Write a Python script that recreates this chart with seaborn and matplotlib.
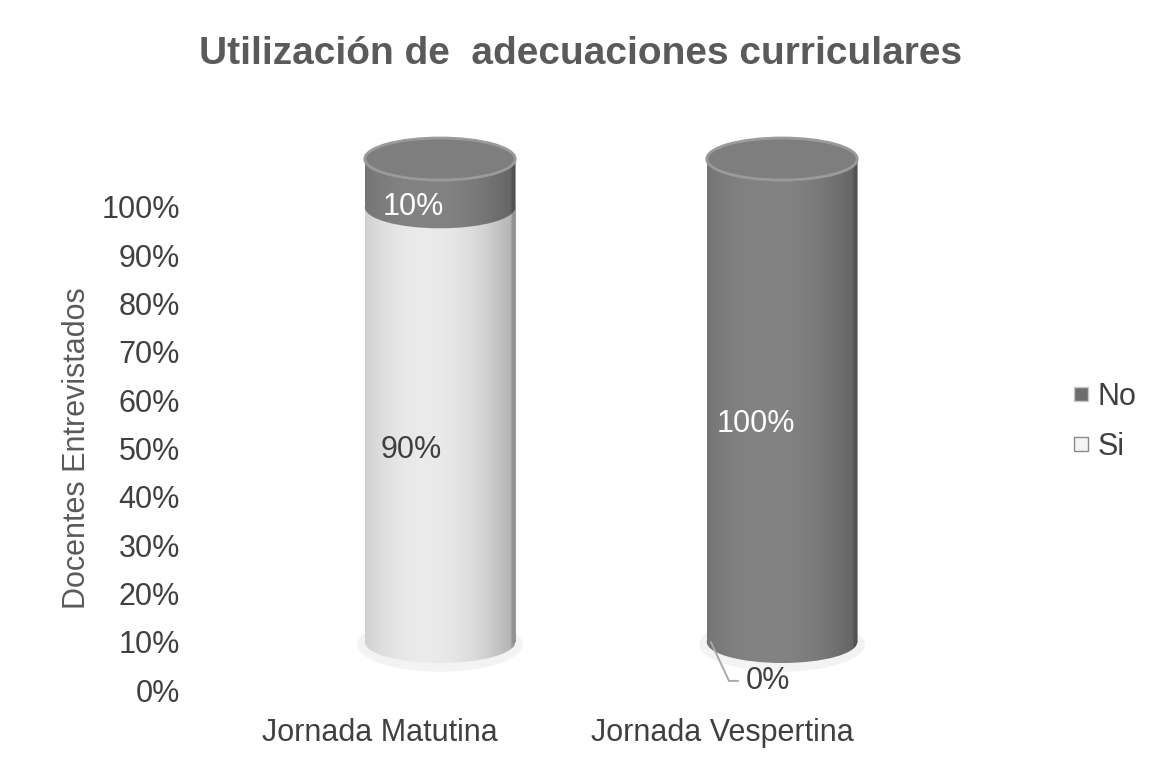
import numpy as np
import pandas as pd
import matplotlib
matplotlib.use("Agg")
import matplotlib.pyplot as plt
import seaborn as sns
from matplotlib.patches import Ellipse, Rectangle
from matplotlib.lines import Line2D

# data
jornadas = ["Jornada Matutina", "Jornada Vespertina"]
si_pct = [90, 0]
no_pct = [10, 100]
y_ticks = [0, 10, 20, 30, 40, 50, 60, 70, 80, 90, 100]

si_color = "#ececec"
no_color = "#848484"
cap_color = "#7e7e7e"
txt_dark = "#404040"
fs = 22

df = pd.DataFrame({"jornada": jornadas, "si": si_pct, "no": no_pct})
df["total"] = df["si"] + df["no"]

sns.set_theme(style="white")
plt.rcParams["font.family"] = ["Liberation Sans", "DejaVu Sans"]

W, H = 1162, 761
fig = plt.figure(figsize=(W / 100, H / 100), dpi=100)

# axis with ticks + category labels (0% at y=690px, 100% at y=207px)
ax = fig.add_axes([209 / W, 1 - 690 / H, 684 / W, 483 / H])
ax.set_xlim(-0.5, 1.5)
ax.set_ylim(0, 100)

# cylinders sit up/right of the axis (3D perspective); same scale, padded limits
ppu = 483 / 100
lo, hi = -8, 108
axb = fig.add_axes([269 / W, 1 - (642 - lo * ppu) / H, 684 / W, (hi - lo) * ppu / H])

for a in (ax, axb):
    for s in a.spines.values():
        s.set_visible(False)
axb.patch.set_alpha(0)

ax.set_xticks(range(len(jornadas)))
ax.set_xticklabels(jornadas, fontsize=fs, color=txt_dark)
ax.set_yticks(y_ticks)
ax.set_yticklabels([f"{t}%" for t in y_ticks], fontsize=fs, color=txt_dark)
ax.tick_params(axis="y", length=0, pad=21)
ax.tick_params(axis="x", length=0, pad=20)
ax.set_ylabel("Docentes Entrevistados", fontsize=fs, color="#5a5a5a", labelpad=7)

bw = 0.44
sns.barplot(data=df, x="jornada", y="total", color=no_color, width=bw,
            saturation=1, ax=axb)
sns.barplot(data=df, x="jornada", y="si", color=si_color, width=bw,
            saturation=1, ax=axb)
axb.set_xlim(-0.5, 1.5)
axb.set_ylim(lo, hi)
axb.set_xlabel("")
axb.set_ylabel("")
axb.set_xticks([])
axb.set_yticks([])

eh = 8.7  # ellipse height in data units

# horizontal cylinder shading (alpha of black), light spot left of centre
xs = np.linspace(0, 1, 200)
shade = np.zeros((1, 200, 4))
shade[0, :, 3] = 0.26 * (np.abs(xs - 0.4) / 0.6) ** 2.2 + 0.01
shade[0, -6:, 3] += 0.12


def add_shading(patch, x0, x1, y0, y1, z):
    im = axb.imshow(shade, extent=(x0, x1, y0, y1), aspect="auto",
                    zorder=z, interpolation="bilinear")
    im.set_clip_path(patch)


no_bars = axb.patches[:2]
si_bars = axb.patches[2:4]
axb.set_aspect("auto")

for i, row in df.iterrows():
    cx = i
    x0, x1 = cx - bw / 2, cx + bw / 2
    nb, sb = no_bars[i], si_bars[i]
    nb.set_visible(False)
    sb.set_zorder(4)
    sb.set_edgecolor("none")
    sb.set_linewidth(0)
    # soft floor shadow
    axb.add_patch(Ellipse((cx, -0.5), bw * 1.1, eh * 1.3, facecolor="#e2e2e2",
                          edgecolor="none", alpha=0.4, zorder=1))
    if row["si"] > 0:
        e = Ellipse((cx, 0), bw, eh, facecolor=si_color, edgecolor="none", zorder=3.5)
        axb.add_patch(e)
        add_shading(e, x0, x1, -eh, eh, 3.6)
        add_shading(sb, x0, x1, 0, row["si"], 4.1)
    else:
        sb.set_visible(False)
    # No segment: from its bottom ellipse upward
    e = Ellipse((cx, row["si"]), bw, eh, facecolor=no_color, edgecolor="none", zorder=5)
    axb.add_patch(e)
    add_shading(e, x0, x1, row["si"] - eh, row["si"] + eh, 5.1)
    seg = Rectangle((x0, row["si"]), bw, row["no"], facecolor=no_color,
                    edgecolor="none", zorder=5.2)
    axb.add_patch(seg)
    add_shading(seg, x0, x1, row["si"], row["total"], 5.3)
    top = Ellipse((cx, row["total"]), bw, eh, facecolor=cap_color,
                  edgecolor="#9a9a9a", linewidth=2, zorder=6)
    axb.add_patch(top)

    # value labels
    if row["si"] > 0:
        axb.annotate(f"{row['si']}%", (cx, row["si"] / 2), xytext=(-21, -18),
                     textcoords="offset points", ha="center", va="center",
                     fontsize=fs, color=txt_dark, zorder=10)
    else:
        axb.annotate(f"{row['si']}%", (x0 + 0.012, 0), xytext=(25, -28),
                     textcoords="offset points", ha="left", va="center",
                     fontsize=fs, color=txt_dark, zorder=10,
                     arrowprops=dict(arrowstyle="-", color="#a8a8a8", lw=1.4,
                                     shrinkA=3, shrinkB=0,
                                     connectionstyle="angle,angleA=0,angleB=-65,rad=0"))
    axb.annotate(f"{row['no']}%", (cx, row["si"] + row["no"] / 2), xytext=(-19, -17),
                 textcoords="offset points", ha="center", va="center",
                 fontsize=fs, color="white", zorder=10)

handles = [
    Line2D([], [], marker="s", linestyle="none", markersize=10,
           markerfacecolor="#6e6e6e", markeredgecolor="#c8c8c8"),
    Line2D([], [], marker="s", linestyle="none", markersize=10,
           markerfacecolor="#f4f4f4", markeredgecolor="#8a8a8a"),
]
fig.legend(handles, ["No", "Si"], loc="center left", bbox_to_anchor=(1055 / W, 1 - 422 / H),
           frameon=False, fontsize=fs, labelcolor=txt_dark, handletextpad=0.1,
           labelspacing=0.65, handlelength=0.9, borderaxespad=0)

fig.text(0.5, 1 - 54 / H, "Utilización de  adecuaciones curriculares",
         ha="center", va="center", fontsize=28, fontweight="bold", color="#5a5a5a")

fig.savefig("out.png", dpi=100)
